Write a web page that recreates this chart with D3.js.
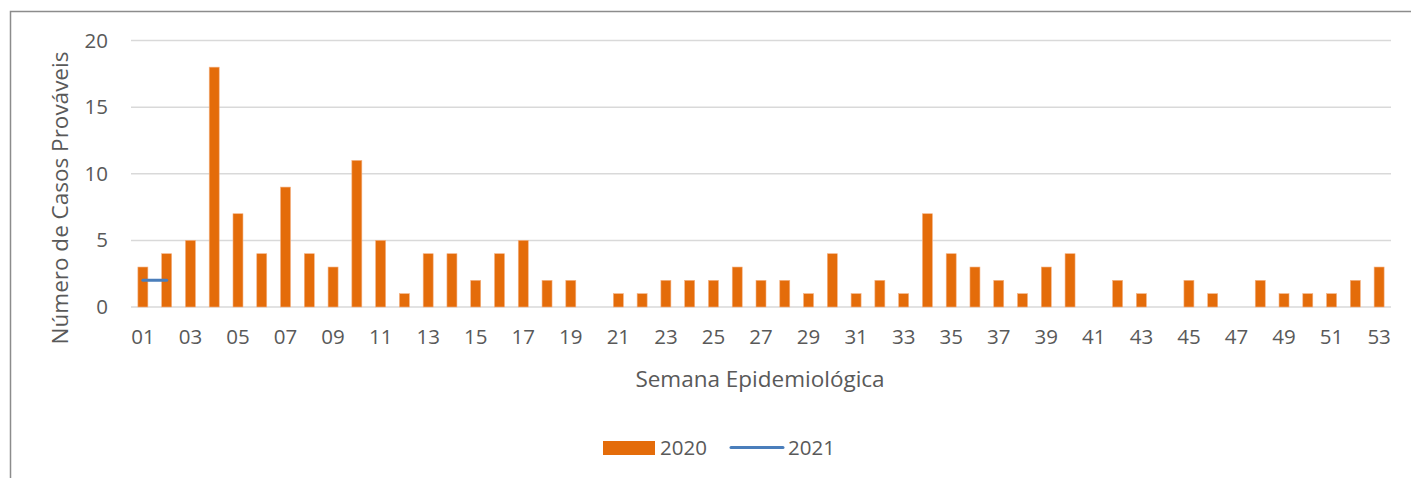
<!DOCTYPE html>
<html>
<head>
<meta charset="utf-8">
<script src="https://cdn.jsdelivr.net/npm/d3@7"></script>
<style>
  html, body { margin: 0; padding: 0; background: #fff; }
  svg { display: block; }
</style>
</head>
<body>
<svg id="chart" width="1411" height="478"></svg>
<script>
// ─── Data ────────────────────────────────────────────────────────────
const weeks = d3.range(1, 54).map((w) => String(w).padStart(2, "0"));
const cases2020 = [3, 4, 5, 18, 7, 4, 9, 4, 3, 11, 5, 1, 4, 4, 2, 4, 5, 2, 2, 0,
  1, 1, 2, 2, 2, 3, 2, 2, 1, 4, 1, 2, 1, 7, 4, 3, 2, 1, 3, 4,
  0, 2, 1, 0, 2, 1, 0, 2, 1, 1, 1, 2, 3];
const weeks2021 = ["01", "02"];
const cases2021 = [2, 2];
const yTicks = [0, 5, 10, 15, 20];

const margin = { top: 40.5, left: 131 };
const plotWidth = 1391 - margin.left;
const plotHeight = 307 - margin.top;
const font = "'Open Sans', 'Liberation Sans', sans-serif";
const textColor = "#595959";

const svg = d3.select("#chart");

// outer chart frame (runs off the right/bottom edge)
svg.append("rect")
  .attr("x", 10.5).attr("y", 11.5)
  .attr("width", 1500).attr("height", 600)
  .attr("fill", "none")
  .attr("stroke", "#8c8c8c")
  .attr("stroke-width", 1.5);

// ─── Scales ──────────────────────────────────────────────────────────
const x = d3.scaleBand().domain(weeks).range([0, plotWidth]).paddingInner(0.58).paddingOuter(0.29);
const y = d3.scaleLinear().domain([0, 20]).range([plotHeight, 0]);

const g = svg.append("g").attr("transform", `translate(${margin.left},${margin.top})`);

// ─── Grid ────────────────────────────────────────────────────────────
g.append("g")
  .selectAll("line")
  .data(yTicks)
  .join("line")
  .attr("x1", 0).attr("x2", plotWidth)
  .attr("y1", (d) => y(d)).attr("y2", (d) => y(d))
  .attr("stroke", "#d9d9d9")
  .attr("stroke-width", 1.5);

// ─── Bars 2020 ───────────────────────────────────────────────────────
g.append("g")
  .selectAll("rect")
  .data(weeks.map((w, i) => ({ w, v: cases2020[i] })).filter((d) => d.v > 0))
  .join("rect")
  .attr("x", (d) => x(d.w))
  .attr("y", (d) => y(d.v))
  .attr("width", x.bandwidth())
  .attr("height", (d) => y(0) - y(d.v))
  .attr("fill", "#e46c0a")
  .attr("stroke", "#f4b183")
  .attr("stroke-width", 0.6);

// ─── Line 2021 ───────────────────────────────────────────────────────
const line = d3.line()
  .x((d) => x(d.w) + x.bandwidth() / 2)
  .y((d) => y(d.v));
g.append("path")
  .datum(weeks2021.map((w, i) => ({ w, v: cases2021[i] })))
  .attr("fill", "none")
  .attr("stroke", "#4a7ebb")
  .attr("stroke-width", 3)
  .attr("stroke-linecap", "round")
  .attr("d", line);

// ─── Y Axis ──────────────────────────────────────────────────────────
const yAxis = g.append("g")
  .call(d3.axisLeft(y).tickValues(yTicks).tickSize(0).tickPadding(23));
yAxis.select(".domain").remove();
yAxis.selectAll(".tick text")
  .attr("font-family", font)
  .attr("font-size", 20.5)
  .attr("fill", textColor);

// ─── X Axis ──────────────────────────────────────────────────────────
const xAxis = g.append("g")
  .attr("transform", `translate(0,${plotHeight})`)
  .call(d3.axisBottom(x).tickValues(weeks.filter((d, i) => i % 2 === 0)).tickSize(0).tickPadding(22));
xAxis.select(".domain").remove();
xAxis.selectAll(".tick text")
  .attr("font-family", font)
  .attr("font-size", 20.5)
  .attr("fill", textColor);

// ─── Axis titles ─────────────────────────────────────────────────────
svg.append("text")
  .attr("transform", `translate(68,198) rotate(-90)`)
  .attr("text-anchor", "middle")
  .attr("font-family", font)
  .attr("font-size", 22.5)
  .attr("fill", textColor)
  .text("Número de Casos Prováveis");

svg.append("text")
  .attr("x", 760).attr("y", 387)
  .attr("text-anchor", "middle")
  .attr("font-family", font)
  .attr("font-size", 22.5)
  .attr("fill", textColor)
  .text("Semana Epidemiológica");

// ─── Legend ──────────────────────────────────────────────────────────
const legend = svg.append("g").attr("font-family", font).attr("font-size", 20.5).attr("fill", textColor);
legend.append("rect")
  .attr("x", 603).attr("y", 441).attr("width", 52).attr("height", 14)
  .attr("fill", "#e46c0a");
legend.append("text").attr("x", 660).attr("y", 455).text("2020");
legend.append("line")
  .attr("x1", 731).attr("x2", 783).attr("y1", 447.5).attr("y2", 447.5)
  .attr("stroke", "#4a7ebb").attr("stroke-width", 3).attr("stroke-linecap", "round");
legend.append("text").attr("x", 788).attr("y", 455).text("2021");
</script>
</body>
</html>
